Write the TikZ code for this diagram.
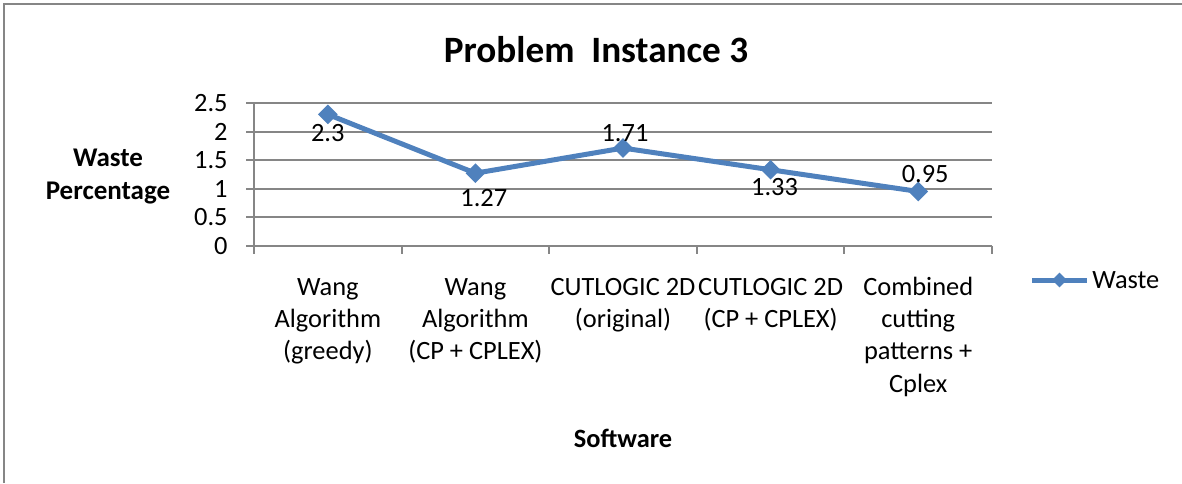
\documentclass[tikz,border=0pt]{standalone}
\usepackage{fontspec}
\setmainfont{Carlito}
\usepackage{tikz}
\usetikzlibrary{positioning,shapes.geometric}

\definecolor{seriesblue}{HTML}{4F81BD}
\definecolor{gridgray}{HTML}{868686}

\begin{document}
\begin{tikzpicture}[x=0.5pt,y=-0.5pt,
                gridline/.style={gridgray,line width=1pt},
                series/.style={seriesblue,line width=2.5pt,line join=round},
                marker/.style={diamond,fill=seriesblue,inner sep=0pt,minimum size=#1},
                marker/.default=10pt,
                every node/.style={black,inner sep=0pt,font=\fontsize{13.2}{16.2}\selectfont},
                catlabel/.style={align=center,anchor=north}
            ]
                \useasboundingbox (0,0) rectangle (1182,483);
                \draw [gridline] (4,483) -- (4,4) -- (1182,4);

                \node[font=\fontsize{18.6}{22}\bfseries] (title) at (596,50) {Problem\ \ Instance 3};
                \node[align=center,font=\fontsize{13.5}{16.5}\bfseries] (ytitle) at (108,176.5) {Waste\\Percentage};
                \node[font=\fontsize{13.2}{16}\bfseries] (xtitle) at (623,438) {Software};

                % plot area: one unit per category, one unit per waste point
                \begin{scope}[shift={(127pt,-122.85pt)},x=73.8pt,y=28.55pt]
                \foreach \v [count=\k] in {0,0.5,1,1.5,2,2.5} {
                    \draw [gridline] (-4pt,\v) -- (5,\v);
                    \node[anchor=east] (ytick\k) at ([xshift=-13pt]0,\v) {\v};
                }
                \draw [gridline] (0,0) -- (0,2.5);
                \foreach \i in {0,...,5}
                    \draw [gridline] (\i,0) -- ++(0,-4pt);

                \node[catlabel] (cat1) at ([yshift=-13.2pt]0.5,0) {\strut Wang\\Algorithm\\(greedy)};
                \node[catlabel] (cat2) at ([yshift=-13.2pt]1.5,0) {\strut Wang\\Algorithm\\(CP + CPLEX)};
                \node[catlabel] (cat3) at ([yshift=-13.2pt]2.5,0) {\strut CUTLOGIC 2D\\(original)};
                \node[catlabel] (cat4) at ([yshift=-13.2pt]3.5,0) {\strut CUTLOGIC 2D\\(CP + CPLEX)};
                \node[catlabel] (cat5) at ([yshift=-13.2pt]4.5,0) {\strut Combined\\cutting\\patterns +\\Cplex};

                \foreach \i/\v in {1/2.3,2/1.27,3/1.71,4/1.33,5/0.95}
                    \coordinate (p\i) at (\i-0.5,\v);
                \draw [series] (p1) -- (p2) -- (p3) -- (p4) -- (p5);
                \foreach \i in {1,...,5}
                    \node[marker] (m\i) at (p\i) {};

                \node (val1) at ([shift={(0pt,-9.3pt)}]m1) {2.3};
                \node (val2) at ([shift={(4.2pt,-12.4pt)}]m2) {1.27};
                \node (val3) at ([shift={(1pt,7.5pt)}]m3) {1.71};
                \node (val4) at ([shift={(2pt,-8.5pt)}]m4) {1.33};
                \node (val5) at ([shift={(3.5pt,8.7pt)}]m5) {0.95};
                \end{scope}

                % legend
                \coordinate (legA) at (1032,280);
                \coordinate (legB) at (1087,280);
                \draw [series] (legA) -- (legB);
                \node[marker=7.5pt] (legmark) at (1059.5,280) {};
                \node[right=2.5pt of legB] (legtext) {Waste};
            \end{tikzpicture}
\end{document}
